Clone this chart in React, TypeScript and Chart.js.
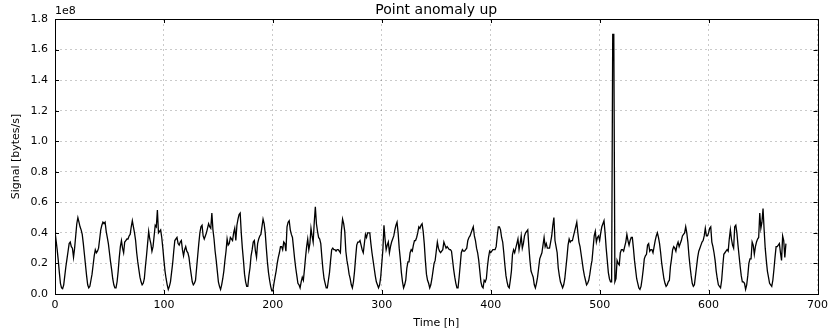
import React, { useEffect, useRef } from "react";
import { Chart, registerables } from "chart.js";

Chart.register(...registerables);

const titleText = "Point anomaly up";
const xTitle = "Time [h]";
const yTitle = "Signal [bytes/s]";
const offsetText = "1e8";
const xTicks = [0, 100, 200, 300, 400, 500, 600, 700];
const yTicks = [0, 0.2, 0.4, 0.6, 0.8, 1.0, 1.2, 1.4, 1.6, 1.8];

// Hourly signal values, in units of 1e6 bytes/s
const week1 = [
  41, 35, 29, 22, 14, 7, 4, 3.5, 6, 12, 18, 23, 28, 33, 34, 31, 30, 24, 30, 38, 46, 50, 47, 44,
  42, 39, 33, 26, 19, 12, 6, 4, 5, 9, 13, 19, 25, 29, 27, 28, 30, 36, 42, 45, 47, 46, 47, 41,
  37, 33, 27, 21, 16, 10, 6, 4, 4, 8, 15, 24, 31, 35, 30, 27, 34, 35, 36, 36, 38, 39, 44, 48,
  44, 40, 35, 27, 21, 16, 11, 8, 6, 7, 10, 18, 25, 33, 41, 36, 33, 28, 31, 38, 45, 44, 55, 40,
  41, 42, 37, 30, 22, 15, 10, 6, 3, 5, 8, 14, 20, 28, 35, 36, 37, 33, 32, 34, 35, 29, 25, 29,
  31, 28, 27, 24, 18, 13, 8, 6, 7, 9, 17, 25, 33, 40, 44, 45, 38, 36, 38, 40, 43, 46, 44, 43,
  53, 42, 36, 28, 22, 15, 8, 5, 3, 6, 10, 15, 22, 28, 36, 32, 33, 37, 36, 35, 40, 43, 35, 45,
];
const week2 = [
  49, 52, 53, 40, 30, 22, 13, 8, 5, 5, 12, 17, 25, 29, 34, 35, 28, 24, 33, 36, 38, 39, 44, 49,
  46, 40, 30, 21, 14, 9, 5, 2, 2, 7, 11, 15, 20, 24, 27, 31, 31, 29, 34, 33, 28, 44, 47, 48,
  42, 39, 37, 30, 23, 17, 12, 7, 6, 4, 8, 11, 9, 16, 24, 31, 36, 29, 33, 43, 38, 34, 47, 57,
  46, 41, 37, 36, 33, 24, 16, 10, 7, 4, 4, 9, 14, 22, 29, 30, 29, 29, 28, 29, 29, 28, 27, 42,
  49, 46, 41, 28, 22, 18, 13, 10, 6, 4, 8, 15, 24, 32, 34, 34, 35, 32, 29, 27, 33, 39, 37, 40,
  40, 40, 33, 27, 22, 17, 12, 8, 6, 4, 6, 11, 20, 29, 45, 36, 29, 32, 34, 27, 31, 34, 36, 38,
  42, 45, 47, 40, 30, 23, 14, 8, 4, 6, 9, 17, 21, 21, 27, 29, 28, 32, 35, 35, 37, 40, 44, 43,
];
const week3 = [
  45, 46, 41, 33, 22, 13, 9, 7, 4, 6, 10, 15, 20, 22, 28, 34, 30, 28, 27, 28, 29, 34, 32, 30,
  31, 30, 29, 29, 28, 22, 16, 11, 7, 4, 4, 11, 19, 27, 29, 28, 28, 29, 30, 35, 37, 38, 40, 42,
  44, 38, 35, 30, 27, 22, 15, 8, 5, 4, 9, 8, 10, 18, 24, 28, 27, 28, 29, 29, 29, 31, 38, 44,
  44, 42, 37, 34, 27, 19, 12, 8, 5, 4, 9, 15, 26, 29, 27, 30, 33, 36, 29, 33, 38, 30, 33, 38,
  40, 41, 42, 31, 22, 15, 13, 11, 6, 4, 7, 11, 17, 23, 25, 27, 32, 37, 31, 33, 30, 30, 30, 34,
  38, 45, 50, 35, 31, 27, 17, 12, 8, 6, 4, 6, 10, 17, 24, 32, 36, 34, 35, 35, 38, 41, 44, 47,
  40, 34, 31, 26, 21, 16, 12, 9, 6, 7, 9, 13, 18, 22, 30, 38, 41, 34, 37, 38, 35, 40, 44, 46,
];
const week4 = [
  48, 40, 30, 22, 14, 10, 8, 8, 170, 170, 8, 10, 22, 20, 19, 27, 29, 29, 28, 31, 34, 39, 35, 32,
  35, 37, 37, 30, 22, 16, 10, 7, 4, 3, 5, 10, 16, 23, 25, 26, 32, 33, 28, 29, 29, 27, 31, 35,
  38, 40, 37, 33, 27, 20, 15, 10, 7, 5, 6, 8, 9, 18, 23, 29, 31, 30, 28, 32, 34, 31, 33, 35,
  38, 39, 40, 44, 40, 34, 25, 18, 12, 7, 5, 6, 12, 18, 24, 28, 30, 32, 34, 35, 38, 43, 38, 38,
  40, 43, 44, 34, 31, 27, 22, 15, 10, 6, 5, 4, 9, 18, 26, 27, 28, 29, 28, 36, 42, 36, 32, 30,
  44, 45, 40, 32, 25, 18, 12, 8, 8, 7, 3, 6, 12, 20, 23, 23, 34, 32, 26, 31, 34, 36, 37, 53,
  43, 47, 56, 42, 30, 22, 15, 11, 7, 6, 5, 9, 16, 24, 31, 31, 32, 33, 27, 22, 38, 35, 24, 33,
];

const FONT = "'DejaVu Sans', sans-serif";

const framePlugin = {
  id: "mplFrame",
  afterDraw(chart: any) {
    const { ctx, chartArea } = chart;
    const { left, right, top, bottom } = chartArea;
    const xs = chart.scales.x;
    const ys = chart.scales.y;
    ctx.save();
    ctx.strokeStyle = "#000";
    ctx.lineWidth = 1;
    ctx.setLineDash([]);
    ctx.beginPath();
    const L = 4;
    xTicks.forEach((t) => {
      const px = Math.round(xs.getPixelForValue(t)) + 0.5;
      ctx.moveTo(px, bottom);
      ctx.lineTo(px, bottom - L);
      ctx.moveTo(px, top);
      ctx.lineTo(px, top + L);
    });
    yTicks.forEach((t) => {
      const py = Math.round(ys.getPixelForValue(t * 1e8)) + 0.5;
      ctx.moveTo(left, py);
      ctx.lineTo(left + L, py);
      ctx.moveTo(right, py);
      ctx.lineTo(right - L, py);
    });
    ctx.stroke();
    ctx.strokeRect(Math.round(left) + 0.5, Math.round(top) + 0.5, Math.round(right - left), Math.round(bottom - top));
    ctx.fillStyle = "#000";
    ctx.font = `14px ${FONT}`;
    ctx.textAlign = "center";
    ctx.textBaseline = "alphabetic";
    ctx.fillText(titleText, (left + right) / 2, top - 5);
    ctx.font = `11px ${FONT}`;
    ctx.textAlign = "left";
    ctx.textBaseline = "bottom";
    ctx.fillText(offsetText, left, top - 2);
    ctx.restore();
  },
};

export default function App() {
  const ref = useRef<HTMLCanvasElement | null>(null);
  useEffect(() => {
    if (!ref.current) return;
    const signal = [...week1, ...week2, ...week3, ...week4];
    const points = signal.map((v, i) => ({ x: i, y: v * 1e6 }));
    const chart = new Chart(ref.current, {
      type: "line",
      data: {
        datasets: [
          {
            data: points,
            borderColor: "#000",
            borderWidth: 1.3,
            pointRadius: 0,
            tension: 0,
            fill: false,
          },
        ],
      },
      options: {
        animation: false,
        responsive: false,
        maintainAspectRatio: false,
        layout: { padding: { top: 19, right: 15, left: 0, bottom: 0 } },
        plugins: { legend: { display: false }, tooltip: { enabled: false }, title: { display: false } },
        scales: {
          x: {
            type: "linear",
            min: 0,
            max: 700,
            afterBuildTicks: (s: any) => {
              s.ticks = xTicks.map((v) => ({ value: v }));
            },
            afterFit: (s: any) => {
              s.height = 40;
            },
            ticks: {
              color: "#000",
              padding: 5,
              maxRotation: 0,
              font: { family: FONT, size: 11 },
              callback: (v: any) => String(v),
            },
            grid: {
              color: "rgba(0,0,0,0.35)",
              lineWidth: 0.6,
              drawTicks: false,
            },
            border: { display: false, dash: [2, 3] },
            title: {
              display: true,
              text: xTitle,
              color: "#000",
              font: { family: FONT, size: 11 },
              padding: { top: 0, bottom: 4 },
            },
          },
          y: {
            type: "linear",
            min: 0,
            max: 1.8e8,
            afterBuildTicks: (s: any) => {
              s.ticks = yTicks.map((v) => ({ value: v * 1e8 }));
            },
            afterFit: (s: any) => {
              s.width = 55;
            },
            ticks: {
              color: "#000",
              padding: 7,
              font: { family: FONT, size: 11 },
              callback: (v: any) => (Number(v) / 1e8).toFixed(1),
            },
            grid: {
              color: "rgba(0,0,0,0.35)",
              lineWidth: 0.6,
              drawTicks: false,
            },
            border: { display: false, dash: [2, 3] },
            title: {
              display: true,
              text: yTitle,
              color: "#000",
              font: { family: FONT, size: 11 },
              padding: { top: 10, bottom: 0 },
            },
          },
        },
      },
      plugins: [framePlugin],
    } as any);
    return () => chart.destroy();
  }, []);
  return (
    <div style={{ position: "fixed", left: 0, top: 0, width: 833, height: 334, background: "#fff" }}>
      <canvas ref={ref} width={833} height={334} style={{ width: 833, height: 334 }} />
    </div>
  );
}
